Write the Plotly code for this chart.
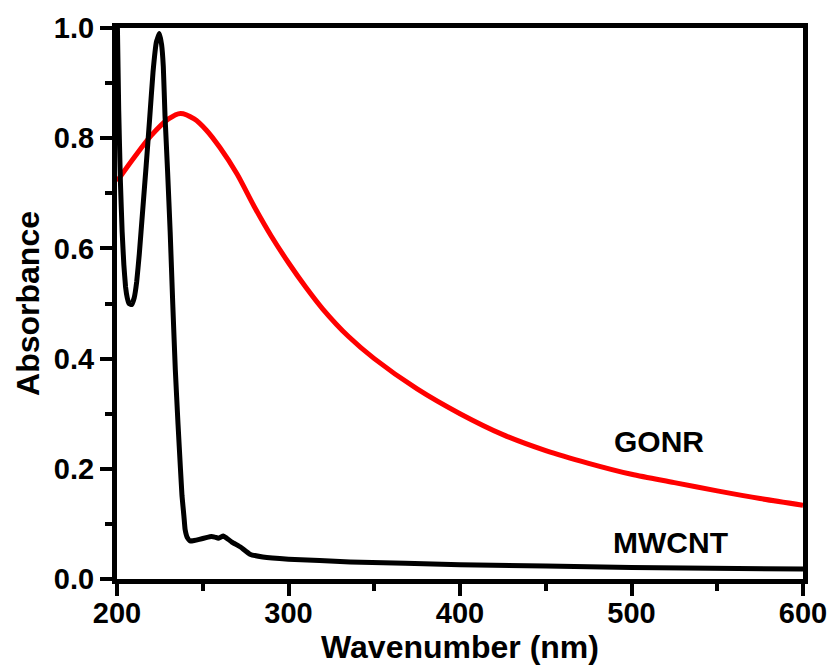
import plotly.graph_objects as go

# MWCNT (black) absorbance spectrum
mwcnt_x = [200, 201, 202, 203, 204, 205, 206, 207, 208.5, 210, 211.5, 213, 215, 217, 219, 221, 223,
           224.7, 226, 227, 228, 229.5, 231, 232.5, 234, 235.6, 237, 237.9, 239, 239.7, 241, 242.6,
           245, 248, 252, 255, 257, 259, 262, 264, 267, 272, 277.5, 285, 300, 336, 400, 500, 600]
mwcnt_y = [1.05, 0.85, 0.72, 0.63, 0.57, 0.53, 0.51, 0.50, 0.498, 0.51, 0.54, 0.59, 0.67, 0.75, 0.834,
           0.92, 0.975, 0.99, 0.97, 0.93, 0.84, 0.74, 0.63, 0.50, 0.38, 0.28, 0.20, 0.151, 0.115, 0.09,
           0.075, 0.069, 0.070, 0.072, 0.075, 0.077, 0.076, 0.074, 0.078, 0.074, 0.067, 0.058, 0.045,
           0.040, 0.036, 0.031, 0.026, 0.021, 0.018]

# GONR (red) absorbance spectrum
gonr_x = [200, 210, 220, 230, 237, 245, 252, 260, 270, 280, 290, 300, 310, 320, 335, 350, 375,
          400, 425, 450, 475, 500, 525, 550, 575, 600]
gonr_y = [0.722, 0.765, 0.805, 0.835, 0.845, 0.835, 0.815, 0.783, 0.735, 0.676, 0.622, 0.574,
          0.530, 0.490, 0.440, 0.400, 0.345, 0.300, 0.262, 0.233, 0.210, 0.190, 0.175, 0.160,
          0.146, 0.134]

x_ticks = [200, 300, 400, 500, 600]
y_ticks = [0.0, 0.2, 0.4, 0.6, 0.8, 1.0]
y_tick_text = ["0.0", "0.2", "0.4", "0.6", "0.8", "1.0"]

labels = ["GONR", "MWCNT"]
label_x = [516, 523]
label_y = [0.25, 0.067]

FONT = "Liberation Sans, Arial, sans-serif"

fig = go.Figure()
fig.add_trace(go.Scatter(x=gonr_x, y=gonr_y, mode="lines", name="GONR",
                         line=dict(color="#ff0000", width=5, shape="spline", smoothing=0.8)))
fig.add_trace(go.Scatter(x=mwcnt_x, y=mwcnt_y, mode="lines", name="MWCNT",
                         line=dict(color="#000000", width=5, shape="spline", smoothing=0.3)))

for t, xx, yy in zip(labels, label_x, label_y):
    fig.add_annotation(x=xx, y=yy, xref="x", yref="y", text=t, showarrow=False,
                       font=dict(family=FONT, size=30, color="black", weight="bold"))

axis_common = dict(
    showline=True, linewidth=5, linecolor="black", mirror=True,
    ticks="outside", ticklen=12, tickwidth=4, tickcolor="black",
    showgrid=False, zeroline=False,
    tickfont=dict(family=FONT, size=29, color="black", weight="bold"),
)

fig.update_xaxes(range=[200, 600], tickvals=x_ticks, ticklabelstandoff=-8,
                 minor=dict(ticks="outside", ticklen=7, tickwidth=4, tickcolor="black", dtick=50,
                            tick0=200, showgrid=False),
                 title=dict(text="Wavenumber (nm)", standoff=5,
                            font=dict(family=FONT, size=32, color="black", weight="bold")),
                 **axis_common)
fig.update_yaxes(range=[0, 1.0], tickvals=y_ticks, ticktext=y_tick_text,
                 minor=dict(ticks="outside", ticklen=7, tickwidth=4, tickcolor="black", dtick=0.1,
                            tick0=0, showgrid=False),
                 title=dict(text="Absorbance", standoff=6,
                            font=dict(family=FONT, size=32, color="black", weight="bold")),
                 **axis_common)

fig.update_layout(
    width=828, height=660,
    margin=dict(l=109, r=33, t=20, b=89, autoexpand=False),
    plot_bgcolor="white", paper_bgcolor="white",
    showlegend=False,
)

fig.write_html("out.html")
